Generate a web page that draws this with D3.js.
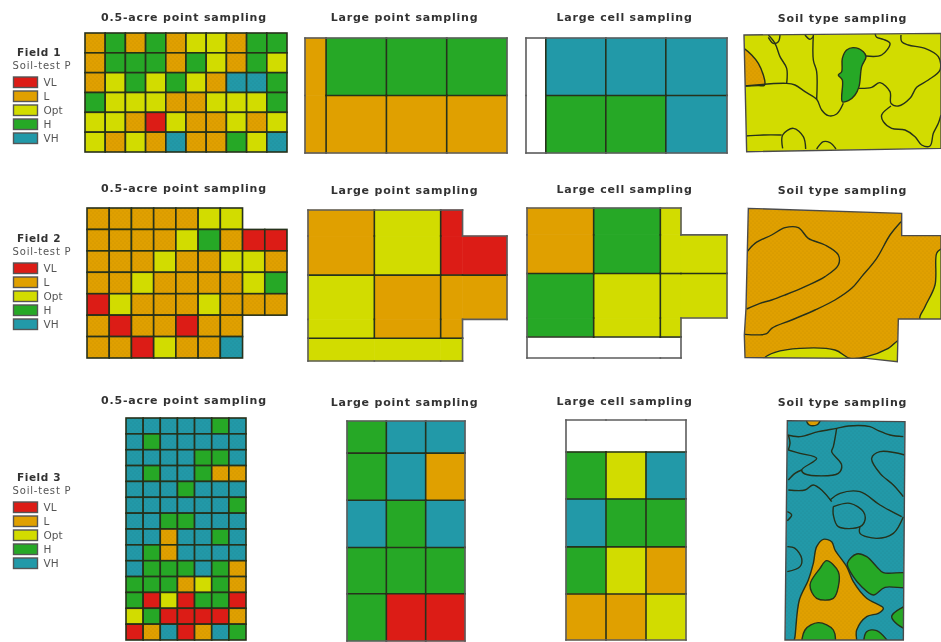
<!DOCTYPE html>
<html>
<head>
<meta charset="utf-8">
<script src="https://cdn.jsdelivr.net/npm/d3@7/dist/d3.min.js"></script>
<style>
  html, body { margin: 0; padding: 0; background: #fff; }
  svg { display: block; }
  text { font-family: "DejaVu Sans", sans-serif; fill: #333; }
</style>
</head>
<body>
<div id="chart"></div>
<script>
// soil-test P classes
var levels = ['VL', 'L', 'Opt', 'H', 'VH'];
var levelColors = ['#dc1c14', '#e0a000', '#d2dc00', '#28a828', '#2299a8'];
var columnTitles = ['0.5-acre point sampling', 'Large point sampling', 'Large cell sampling', 'Soil type sampling'];
var fieldNames = ['Field 1', 'Field 2', 'Field 3'];

// 0.5-acre grids, one entry per cell, null = outside the field
var N = null, VL = 'VL', L = 'L', O = 'Opt', H = 'H', V = 'VH';
var grid1 = [
  [L, H, L, H, L, O, O, L, H, H],
  [L, H, H, H, L, H, O, L, H, O],
  [L, O, H, O, H, O, L, V, V, H],
  [H, O, O, O, L, L, O, O, O, H],
  [O, O, L, VL, O, L, L, O, L, O],
  [O, L, O, L, V, L, L, H, O, V]
];
var grid2 = [
  [L, L, L, L, L, O, O, N, N],
  [L, L, L, L, O, H, L, VL, VL],
  [L, L, L, O, L, L, O, O, L],
  [L, L, O, L, L, L, L, O, H],
  [VL, O, L, L, L, O, L, L, L],
  [L, VL, L, L, VL, L, L, N, N],
  [L, L, VL, O, L, L, V, N, N]
];
var grid3 = [
  [V, V, V, V, V, H, V],
  [V, H, V, V, V, V, V],
  [V, V, V, V, H, H, V],
  [V, H, V, V, H, L, L],
  [V, V, V, H, V, V, V],
  [V, V, V, V, V, V, H],
  [V, V, H, H, V, V, V],
  [V, V, L, V, V, H, V],
  [V, H, L, V, V, V, V],
  [V, H, H, H, V, H, L],
  [H, H, H, L, O, H, L],
  [H, VL, O, VL, H, H, VL],
  [O, H, VL, VL, VL, VL, L],
  [VL, L, V, VL, L, V, H]
];

// large plots: letters name the plots, '-' = outside the field, edges in sampling-cell units
var pointPlots1 = ['abcd', 'aefg'];
var pointLevels1 = { a: L, b: H, c: H, d: H, e: L, f: L, g: L };
var pointCols1 = [0, 0.35, 1.35, 2.35, 3.35];
var pointRows1 = [0, 1, 2];

var cellPlots1 = ['.abc', '.def'];
var cellLevels1 = { a: V, b: V, c: V, d: H, e: H, f: V };
var cellCols1 = [0, 0.33, 1.33, 2.33, 3.35];
var cellRows1 = [0, 1, 2];

var pointPlots2 = ['abc-', 'abcc', 'deff', 'def-', 'ggg-'];
var pointLevels2 = { a: L, b: O, c: VL, d: O, e: L, f: L, g: O };
var pointCols2 = [0, 1, 2, 2.33, 3];
var pointRows2 = [0, 0.4, 1, 1.68, 1.97, 2.32];

var cellPlots2 = ['abc-', 'abcc', 'deff', 'def-', '...-'];
var cellLevels2 = { a: L, b: H, c: O, d: H, e: O, f: O };
var cellCols2 = [0, 1, 2, 2.31, 3];
var cellRows2 = [0, 0.41, 1, 1.68, 1.97, 2.29];

var pointPlots3 = ['abc', 'def', 'ghi', 'jkl', 'mno'];
var pointLevels3 = { a: H, b: V, c: V, d: H, e: V, f: L, g: V, h: H, i: V, j: H, k: H, l: H, m: H, n: VL, o: VL };
var pointCols3 = [0, 1, 2, 3];
var pointRows3 = [0, 0.68, 1.68, 2.68, 3.66, 4.66];

var cellPlots3 = ['...', 'abc', 'def', 'ghi', 'jkl'];
var cellLevels3 = { a: H, b: O, c: V, d: V, e: H, f: H, g: H, h: O, i: L, j: L, k: L, l: O };
var cellCols3 = [0, 1, 2, 3];
var cellRows3 = [0, 0.68, 1.68, 2.7, 3.7, 4.68];

// soil maps in map units
var soilBase1 = [[27, 105], [618, 100], [618, 445], [35, 455]];
var soilRegions1 = [
  { level: L, ring: [[10, 135], [27, 145], [50, 165], [70, 190], [85, 225], [90, 250], [88, 256], [70, 257], [30, 258], [10, 258]] },
  { level: H, ring: [[322, 305], [322, 240], [310, 225], [320, 215], [322, 175], [335, 150], [355, 143], [385, 155], [393, 170], [380, 200], [372, 260], [360, 285], [340, 302]] }
];
var soilLines1 = [
  [[30, 258], [155, 250], [180, 255], [210, 275], [245, 298], [260, 330], [280, 347], [305, 342], [325, 310]],
  [[100, 105], [120, 130], [135, 170], [155, 205], [155, 250]],
  [[100, 112], [115, 130], [130, 125], [135, 105]],
  [[235, 105], [235, 180], [245, 215], [245, 298]],
  [[210, 105], [225, 118], [235, 110]],
  [[393, 168], [440, 165], [465, 130], [445, 118], [425, 112], [420, 100]],
  [[372, 265], [410, 262], [435, 248], [465, 275], [468, 310], [490, 318], [525, 295], [545, 262], [580, 240], [615, 210], [610, 170], [570, 145], [520, 135], [500, 125], [498, 105]],
  [[468, 318], [440, 345], [445, 365], [470, 385], [510, 390], [540, 410], [560, 435], [585, 438], [595, 400], [610, 370], [618, 345]],
  [[30, 408], [85, 405], [140, 405]],
  [[143, 445], [143, 405], [175, 385], [205, 410], [212, 447]],
  [[245, 447], [265, 425], [285, 428], [303, 447]]
];

var soilBase2 = [[40, 100], [500, 115], [500, 182], [618, 182], [618, 432], [490, 432], [487, 560], [395, 550], [30, 548], [28, 480], [33, 400]];
var soilRegions2 = [
  { level: O, ring: [[640, 215], [618, 222], [605, 235], [600, 330], [570, 395], [555, 432], [640, 440]] },
  { level: O, ring: [[90, 548], [120, 532], [195, 520], [300, 525], [345, 550], [395, 545], [460, 520], [495, 495], [495, 565], [395, 565], [90, 560]] }
];
var soilLines2 = [
  [[35, 232], [60, 205], [110, 180], [150, 158], [190, 158], [220, 190], [270, 210], [310, 240], [310, 270], [270, 305], [210, 335], [150, 360], [110, 375], [75, 385], [35, 402]],
  [[30, 478], [95, 476], [110, 460], [170, 435], [240, 405], [300, 375], [350, 340], [380, 305], [425, 250], [465, 180], [498, 140]]
];

var soilBase3 = [[52, 92], [405, 95], [400, 750], [45, 750]];
var soilRegions3 = [
  { level: L, ring: [[110, 90], [150, 90], [140, 105], [118, 105]] },
  { level: L, ring: [[160, 448], [185, 455], [195, 480], [230, 530], [250, 575], [290, 625], [340, 655], [325, 670], [290, 680], [260, 720], [255, 775], [70, 775], [75, 740], [88, 630], [115, 570], [130, 520], [140, 470]] },
  { level: H, ring: [[170, 512], [205, 545], [205, 590], [190, 625], [140, 625], [120, 585], [150, 535]] },
  { level: H, ring: [[100, 770], [105, 720], [145, 698], [190, 720], [190, 770]] },
  { level: H, ring: [[232, 520], [260, 492], [290, 500], [320, 530], [340, 548], [420, 552], [420, 590], [345, 592], [310, 615], [275, 590], [250, 560]] },
  { level: H, ring: [[410, 650], [392, 655], [365, 680], [392, 710], [410, 715]] },
  { level: H, ring: [[285, 770], [290, 725], [320, 722], [360, 770]] }
];
var soilLines3 = [
  [[52, 135], [90, 140], [145, 125], [200, 115], [235, 108], [300, 110], [325, 122], [360, 135], [400, 140]],
  [[200, 115], [190, 170], [185, 185], [215, 225], [205, 250], [105, 252], [95, 240], [140, 205], [90, 190], [55, 180]],
  [[55, 270], [75, 250], [95, 240]],
  [[55, 135], [60, 160], [55, 180]],
  [[405, 195], [330, 185], [305, 205], [330, 250], [370, 285], [400, 320]],
  [[55, 300], [105, 300], [130, 285], [160, 305], [185, 335]],
  [[180, 330], [210, 310], [270, 305], [330, 345], [395, 380]],
  [[190, 350], [240, 340], [280, 365], [285, 390], [270, 410], [205, 410], [190, 375], [190, 350]],
  [[270, 410], [270, 430], [320, 445], [370, 430], [400, 380]],
  [[52, 365], [65, 375], [52, 392]],
  [[52, 470], [75, 475], [95, 505], [90, 530], [52, 545]]
];

var width = 941, height = 642;
var color = d3.scaleOrdinal().domain(levels).range(levelColors);

var svg = d3.select('#chart').append('svg')
  .attr('width', width)
  .attr('height', height);

var defs = svg.append('defs');
defs.append('filter')
  .attr('id', 'soften')
  .attr('filterUnits', 'userSpaceOnUse')
  .attr('x', 0).attr('y', 0)
  .attr('width', width).attr('height', height)
  .append('feGaussianBlur')
  .attr('stdDeviation', 0.65);

// the scan has a faint stipple inside the L and VH fills
levels.forEach(function (level, i) {
  var p = defs.append('pattern')
    .attr('id', 'fill-' + i)
    .attr('patternUnits', 'userSpaceOnUse')
    .attr('width', 4).attr('height', 4);
  p.append('rect').attr('width', 4).attr('height', 4).attr('fill', color(level));
  if (level === 'L' || level === 'VH') {
    p.append('circle').attr('cx', 1).attr('cy', 1).attr('r', 0.6).attr('fill', '#000').attr('opacity', 0.1);
    p.append('circle').attr('cx', 3).attr('cy', 3).attr('r', 0.6).attr('fill', '#000').attr('opacity', 0.1);
  }
});

function fillOf(level) {
  return 'url(#fill-' + levels.indexOf(level) + ')';
}

var root = svg.append('g').attr('filter', 'url(#soften)');

function drawGrid(grid, box) {
  var x = d3.scaleBand().domain(d3.range(grid[0].length)).range([box.x0, box.x1]);
  var y = d3.scaleBand().domain(d3.range(grid.length)).range([box.y0, box.y1]);
  var g = root.append('g').attr('class', 'grid');
  grid.forEach(function (row, r) {
    g.selectAll(null)
      .data(row.map(function (level, c) { return { level: level, c: c }; }).filter(function (d) { return d.level; }))
      .enter().append('rect')
      .attr('x', function (d) { return x(d.c); })
      .attr('y', y(r))
      .attr('width', x.bandwidth())
      .attr('height', y.bandwidth())
      .attr('fill', function (d) { return fillOf(d.level); })
      .attr('stroke', '#26301a')
      .attr('stroke-width', 1.6);
  });
}

function drawPlots(plots, plotLevels, cols, rows, box) {
  var x = d3.scaleLinear().domain(d3.extent(cols)).range([box.x0, box.x1]);
  var y = d3.scaleLinear().domain(d3.extent(rows)).range([box.y0, box.y1]);
  var g = root.append('g').attr('class', 'plots');
  var cells = [], edges = [];

  function at(r, c) {
    return (plots[r] && plots[r][c]) || '-';
  }
  plots.forEach(function (row, r) {
    row.split('').forEach(function (id, c) {
      if (id === '-') return;
      cells.push({ id: id, r: r, c: c });
    });
  });
  // edges between two different plots; outer edges are lighter
  cells.forEach(function (d) {
    var right = at(d.r, d.c + 1), down = at(d.r + 1, d.c), left = at(d.r, d.c - 1), up = at(d.r - 1, d.c);
    if (right !== d.id) edges.push({ outer: right === '-', a: [cols[d.c + 1], rows[d.r]], b: [cols[d.c + 1], rows[d.r + 1]] });
    if (down !== d.id) edges.push({ outer: down === '-', a: [cols[d.c], rows[d.r + 1]], b: [cols[d.c + 1], rows[d.r + 1]] });
    if (left === '-') edges.push({ outer: true, a: [cols[d.c], rows[d.r]], b: [cols[d.c], rows[d.r + 1]] });
    if (up === '-') edges.push({ outer: true, a: [cols[d.c], rows[d.r]], b: [cols[d.c + 1], rows[d.r]] });
  });

  function plotColor(d) {
    return plotLevels[d.id] ? color(plotLevels[d.id]) : '#fff';
  }
  g.selectAll('rect')
    .data(cells)
    .enter().append('rect')
    .attr('x', function (d) { return x(cols[d.c]); })
    .attr('y', function (d) { return y(rows[d.r]); })
    .attr('width', function (d) { return x(cols[d.c + 1]) - x(cols[d.c]); })
    .attr('height', function (d) { return y(rows[d.r + 1]) - y(rows[d.r]); })
    .attr('fill', plotColor)
    .attr('stroke', plotColor)
    .attr('stroke-width', 0.6);

  g.selectAll('line')
    .data(edges)
    .enter().append('line')
    .attr('x1', function (d) { return x(d.a[0]); })
    .attr('y1', function (d) { return y(d.a[1]); })
    .attr('x2', function (d) { return x(d.b[0]); })
    .attr('y2', function (d) { return y(d.b[1]); })
    .attr('stroke', function (d) { return d.outer ? '#5c5c5c' : '#26301a'; })
    .attr('stroke-width', 1.6)
    .attr('stroke-linecap', 'square');
}

function drawSoil(id, baseLevel, base, regions, lines, origin) {
  var x = d3.scaleLinear().domain([0, 3]).range([origin.x, origin.x + 1]);
  var y = d3.scaleLinear().domain([0, 3]).range([origin.y, origin.y + 1]);
  var outline = d3.line().x(function (d) { return x(d[0]); }).y(function (d) { return y(d[1]); });
  var blob = d3.line().x(outline.x()).y(outline.y()).curve(d3.curveCatmullRomClosed.alpha(0.5));
  var wiggle = d3.line().x(outline.x()).y(outline.y()).curve(d3.curveCatmullRom.alpha(0.5));

  defs.append('clipPath').attr('id', id)
    .append('path').attr('d', outline(base) + 'Z');

  var g = root.append('g').attr('class', 'soil');
  var inside = g.append('g').attr('clip-path', 'url(#' + id + ')');

  inside.append('path')
    .attr('d', outline(base) + 'Z')
    .attr('fill', fillOf(baseLevel));
  inside.selectAll('path.region')
    .data(regions)
    .enter().append('path')
    .attr('class', 'region')
    .attr('d', function (d) { return blob(d.ring); })
    .attr('fill', function (d) { return fillOf(d.level); })
    .attr('stroke', '#26301a')
    .attr('stroke-width', 1.4);
  inside.selectAll('path.border')
    .data(lines)
    .enter().append('path')
    .attr('class', 'border')
    .attr('d', wiggle)
    .attr('fill', 'none')
    .attr('stroke', '#26301a')
    .attr('stroke-width', 1.4);

  g.append('path')
    .attr('d', outline(base) + 'Z')
    .attr('fill', 'none')
    .attr('stroke', '#4c4c4c')
    .attr('stroke-width', 1.4);
}

function drawLegend(name, titleY) {
  var g = root.append('g').attr('class', 'legend');
  g.append('text')
    .attr('x', 39).attr('y', titleY + 4)
    .attr('text-anchor', 'middle')
    .style('font-size', '10.5px')
    .style('font-weight', 'bold')
    .style('letter-spacing', '0.6px')
    .text(name);
  g.append('text')
    .attr('x', 42).attr('y', titleY + 17)
    .attr('text-anchor', 'middle')
    .style('font-size', '10px')
    .style('letter-spacing', '0.8px')
    .style('fill', '#555')
    .text('Soil-test P');
  var y = d3.scalePoint().domain(levels).range([titleY + 25, titleY + 81]);
  g.selectAll('rect')
    .data(levels)
    .enter().append('rect')
    .attr('x', 13.5).attr('y', function (d) { return y(d); })
    .attr('width', 24).attr('height', 10.5)
    .attr('fill', function (d) { return color(d); })
    .attr('stroke', '#555')
    .attr('stroke-width', 1.4);
  g.selectAll('text.level')
    .data(levels)
    .enter().append('text')
    .attr('class', 'level')
    .attr('x', 43.5).attr('y', function (d) { return y(d) + 9; })
    .style('font-size', '10.5px')
    .style('fill', '#555')
    .text(function (d) { return d; });
}

function drawTitles(ys) {
  var centers = [184, 404.5, 624.5, 842.5];
  root.append('g').attr('class', 'titles').selectAll('text')
    .data(columnTitles)
    .enter().append('text')
    .attr('x', function (d, i) { return centers[i]; })
    .attr('y', function (d, i) { return ys[i] + 4; })
    .attr('text-anchor', 'middle')
    .style('font-size', '11px')
    .style('font-weight', 'bold')
    .style('letter-spacing', '0.8px')
    .text(function (d) { return d; });
}

// Field 1
drawTitles([17, 17, 17, 18]);
drawLegend(fieldNames[0], 52);
drawGrid(grid1, { x0: 85, x1: 287, y0: 33, y1: 152 });
drawPlots(pointPlots1, pointLevels1, pointCols1, pointRows1, { x0: 305, x1: 507, y0: 38, y1: 153 });
drawPlots(cellPlots1, cellLevels1, cellCols1, cellRows1, { x0: 526, x1: 727, y0: 38, y1: 153 });
drawSoil('soil-1', O, soilBase1, soilRegions1, soilLines1, { x: 735, y: 0 });

// Field 2
drawTitles([188, 190, 189, 190]);
drawLegend(fieldNames[1], 238);
drawGrid(grid2, { x0: 87, x1: 287, y0: 208, y1: 358 });
drawPlots(pointPlots2, pointLevels2, pointCols2, pointRows2, { x0: 308, x1: 507, y0: 210, y1: 361 });
drawPlots(cellPlots2, cellLevels2, cellCols2, cellRows2, { x0: 527, x1: 727, y0: 208, y1: 358 });
drawSoil('soil-2', L, soilBase2, soilRegions2, soilLines2, { x: 735, y: 175 });

// Field 3
drawTitles([400, 402, 401, 402]);
drawLegend(fieldNames[2], 477);
drawGrid(grid3, { x0: 126, x1: 246, y0: 418, y1: 640 });
drawPlots(pointPlots3, pointLevels3, pointCols3, pointRows3, { x0: 347, x1: 465, y0: 421, y1: 641 });
drawPlots(cellPlots3, cellLevels3, cellCols3, cellRows3, { x0: 566, x1: 686, y0: 420, y1: 640 });
drawSoil('soil-3', V, soilBase3, soilRegions3, soilLines3, { x: 770, y: 390 });
</script>
</body>
</html>
